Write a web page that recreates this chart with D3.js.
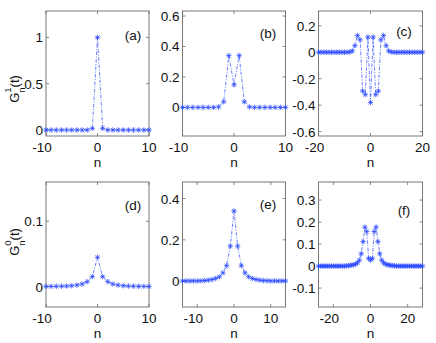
<!DOCTYPE html>
<html><head><meta charset="utf-8">
<script src="https://cdn.jsdelivr.net/npm/d3@7/dist/d3.min.js"></script>
<style>
body{margin:0;background:#fff;}
svg{display:block;font-family:"Liberation Sans",Arial,sans-serif;}
</style></head>
<body>
<svg id="c" width="436" height="343"></svg>
<script>
// ---- data ----
const nA = d3.range(-10, 11);
const gA = [0,0,0,0,0,0,0,0,0,0.018,1,0.018,0,0,0,0,0,0,0,0,0];
const nB = d3.range(-10, 11);
const gB = [0,0,0,0,0,0,0,0.003,0.037,0.34,0.148,0.34,0.037,0.003,0,0,0,0,0,0,0];
const nC = d3.range(-20, 21);
const gC = [0,0,0,0,0,0,0,0,0,0,0,0,0.002,0.01,0.05,0.127,0.094,-0.293,-0.32,0.115,-0.38,
            0.115,-0.32,-0.293,0.094,0.127,0.05,0.01,0.002,0,0,0,0,0,0,0,0,0,0,0,0];
const nD = d3.range(-10, 11);
const gD = [0.0005,0.0005,0.0006,0.0008,0.001,0.0015,0.0025,0.004,0.0077,0.0154,0.045,
            0.0154,0.0077,0.004,0.0025,0.0015,0.001,0.0008,0.0006,0.0005,0.0005];
const nE = d3.range(-14, 15);
const gE = [0.001,0.001,0.001,0.001,0.001,0.002,0.003,0.005,0.008,0.013,0.021,0.04,0.075,0.17,0.34,
            0.17,0.075,0.04,0.021,0.013,0.008,0.005,0.003,0.002,0.001,0.001,0.001,0.001,0.001];
const nF = d3.range(-28, 29);
const gF = [0,0,0,0,0,0,0,0,0,0,0,0,0,0,0,0.001,0.002,0.003,0.004,0.006,0.009,0.015,0.027,0.056,0.111,0.177,0.157,0.035,0.027,
            0.035,0.157,0.177,0.111,0.056,0.027,0.015,0.009,0.006,0.004,0.003,0.002,0.001,0,0,0,0,0,0,0,0,0,0,0,0,0,0,0];

const xTicksA = [-10,0,10], yTicksA = [0,0.5,1];
const xTicksB = [-10,0,10], yTicksB = [0,0.2,0.4,0.6];
const xTicksC = [-20,0,20], yTicksC = [-0.6,-0.4,-0.2,0,0.2];
const xTicksD = [-10,0,10], yTicksD = [0,0.1];
const xTicksE = [-10,0,10], yTicksE = [0,0.2,0.4];
const xTicksF = [-20,0,20], yTicksF = [-0.1,0,0.1,0.2,0.3];
const panelLabels = ["(a)","(b)","(c)","(d)","(e)","(f)"];

// ---- layout ----
const cols = [[46,149],[182.5,285.5],[318.5,422.5]];
const rows = [[11,136],[182,307]];
const panels = [
  {n:nA,g:gA,xd:[-10,10],yd:[-0.065,1.285],xt:xTicksA,yt:yTicksA,c:0,r:0,lab:[133,35]},
  {n:nB,g:gB,xd:[-10,10],yd:[-0.188,0.633],xt:xTicksB,yt:yTicksB,c:1,r:0,lab:[268,33]},
  {n:nC,g:gC,xd:[-20,20],yd:[-0.633,0.312],xt:xTicksC,yt:yTicksC,c:2,r:0,lab:[404,31]},
  {n:nD,g:gD,xd:[-10,10],yd:[-0.031,0.16],xt:xTicksD,yt:yTicksD,c:0,r:1,lab:[133,205]},
  {n:nE,g:gE,xd:[-14,14],yd:[-0.125,0.48],xt:xTicksE,yt:yTicksE,c:1,r:1,lab:[268,204]},
  {n:nF,g:gF,xd:[-28,28],yd:[-0.186,0.382],xt:xTicksF,yt:yTicksF,c:2,r:1,lab:[404,210]}
];

const svg = d3.select("#c");
const blue = "#2a48ff";
const axisCol = "#6a6a6a";
const fs = 13.5;

panels.forEach((p,i)=>{
  const [x0,x1] = cols[p.c], [y0,y1] = rows[p.r];
  const x = d3.scaleLinear().domain(p.xd).range([x0,x1]);
  const y = d3.scaleLinear().domain(p.yd).range([y1,y0]);
  const g = svg.append("g");
  g.append("rect").attr("x",x0).attr("y",y0).attr("width",x1-x0).attr("height",y1-y0)
    .attr("fill","none").attr("stroke",axisCol).attr("stroke-width",0.9);
  p.xt.forEach(t=>{
    const xx = x(t);
    g.append("line").attr("x1",xx).attr("x2",xx).attr("y1",y1).attr("y2",y1-3).attr("stroke",axisCol).attr("stroke-width",0.8);
    g.append("line").attr("x1",xx).attr("x2",xx).attr("y1",y0).attr("y2",y0+3).attr("stroke",axisCol).attr("stroke-width",0.8);
    g.append("text").attr("x",xx).attr("y",y1+16).attr("dx",t<0?-4:0)
      .attr("text-anchor","middle").attr("font-size",fs).attr("fill","#111").text(String(t));
  });
  p.yt.forEach(t=>{
    const yy = y(t);
    g.append("line").attr("x1",x0).attr("x2",x0+3).attr("y1",yy).attr("y2",yy).attr("stroke",axisCol).attr("stroke-width",0.8);
    g.append("line").attr("x1",x1).attr("x2",x1-3).attr("y1",yy).attr("y2",yy).attr("stroke",axisCol).attr("stroke-width",0.8);
    g.append("text").attr("x",x0-3).attr("y",yy+5)
      .attr("text-anchor","end").attr("font-size",fs).attr("fill","#111").text(String(t));
  });
  g.append("text").attr("x",(x0+x1)/2).attr("y",y1+31).attr("text-anchor","middle")
    .attr("font-size",fs).attr("fill","#111").text("n");
  g.append("text").attr("x",p.lab[0]).attr("y",p.lab[1]+5).attr("text-anchor","middle")
    .attr("font-size",fs).attr("fill","#111").text(panelLabels[i]);
  const pts = p.n.map((v,k)=>[v,p.g[k]]);
  g.append("path").datum(pts)
    .attr("d", d3.line().x(d=>x(d[0])).y(d=>y(d[1])))
    .attr("fill","none").attr("stroke",blue).attr("stroke-width",0.7)
    .attr("stroke-dasharray","3.5,1.5,1,1.5");
  const s = 2.7, sd = 1.95;
  const mk = g.append("g").attr("stroke",blue).attr("stroke-width",0.75);
  pts.forEach(d=>{
    const cx = x(d[0]), cy = y(d[1]);
    mk.append("path").attr("d",
      `M${cx-s},${cy}H${cx+s}M${cx},${cy-s}V${cy+s}` +
      `M${cx-sd},${cy-sd}L${cx+sd},${cy+sd}M${cx-sd},${cy+sd}L${cx+sd},${cy-sd}`);
  });
});

function ylab(cx, cy, sup){
  const t = svg.append("text").attr("transform",`translate(${cx},${cy}) rotate(-90)`)
    .attr("text-anchor","middle").attr("font-size",13).attr("fill","#111");
  t.append("tspan").text("G");
  t.append("tspan").attr("font-size",9.5).attr("dy",-7.5).text(sup);
  t.append("tspan").attr("font-size",9.5).attr("dx",-5.3).attr("dy",14).text("n");
  t.append("tspan").attr("dy",-6.5).text("(t)");
}
ylab(18.5, 89, "1");
ylab(18.5, 242, "0");
</script>
</body></html>
